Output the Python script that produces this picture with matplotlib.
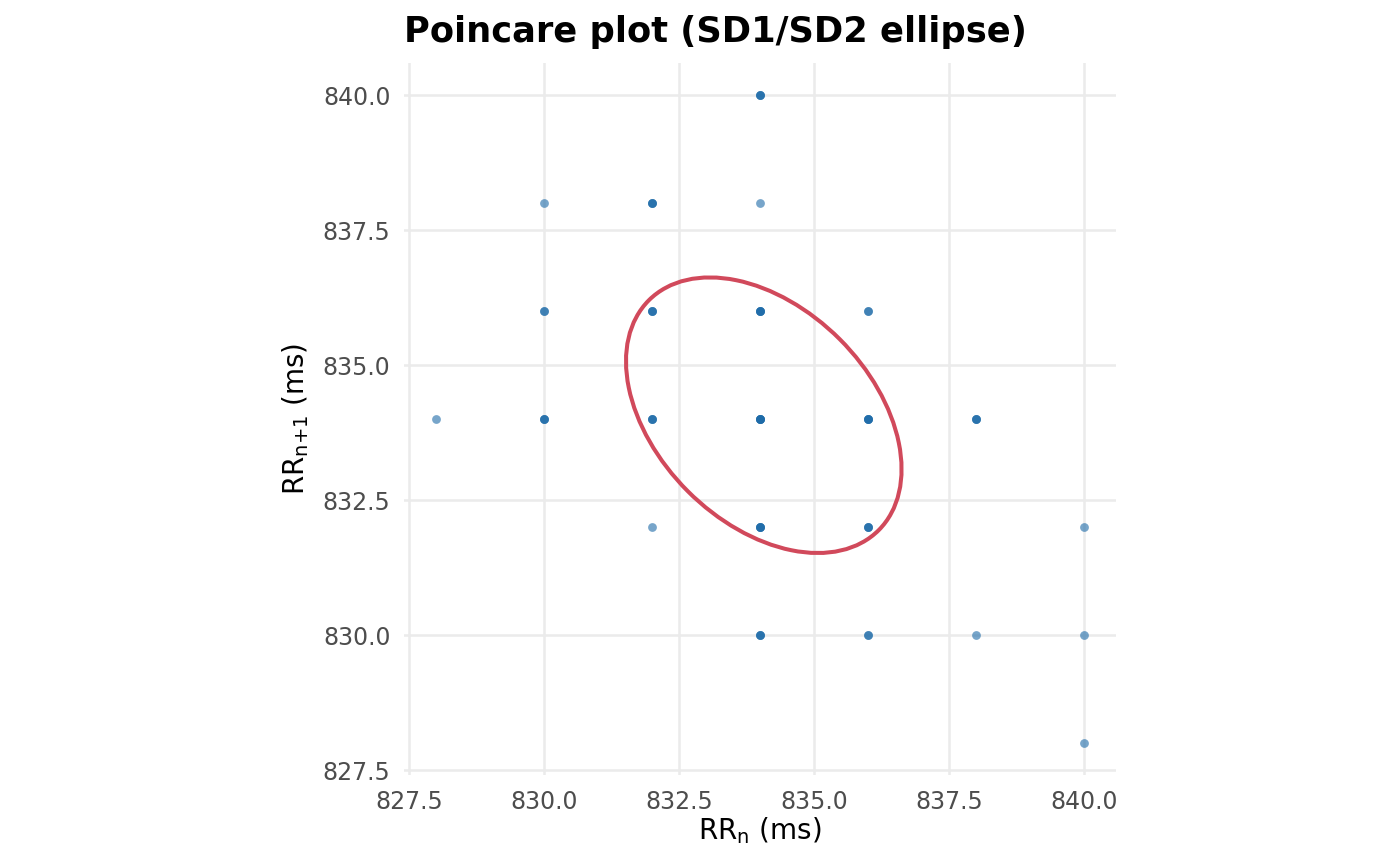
import matplotlib
matplotlib.use("Agg")
import matplotlib.pyplot as plt
from matplotlib.patches import Ellipse
import numpy as np

# ---- data: unique Poincare points (RR_n, RR_n+1) and how many times each occurs
rr_n   = [834, 830, 832, 834, 830, 832, 834, 836, 828, 830, 832, 834, 836, 838,
          832, 834, 836, 840, 834, 836, 838, 840, 840]
rr_n1  = [840, 838, 838, 838, 836, 836, 836, 836, 834, 834, 834, 834, 834, 834,
          832, 832, 832, 832, 830, 830, 830, 830, 828]
counts = [3, 1, 3, 1, 2, 3, 4, 2, 1, 3, 3, 5, 4, 3,
          1, 4, 3, 1, 3, 2, 1, 1, 1]

# ellipse (centre, SD along identity line, SD perpendicular)
centre = (834.07, 834.07)
sd2 = 1.99
sd1 = 3.01

ticks = [827.5, 830.0, 832.5, 835.0, 837.5, 840.0]
xlim = (827.4, 840.6)
ylim = (827.4, 840.6)

title = "Poincare plot (SD1/SD2 ellipse)"
xlabel = r"RR$_{\mathregular{n}}$ (ms)"
ylabel = r"RR$_{\mathregular{n{+}1}}$ (ms)"

plt.rcParams['font.family'] = ['DejaVu Sans']
plt.rcParams['mathtext.default'] = 'regular'

W, H = 1400, 866
fig = plt.figure(figsize=(W / 100, H / 100), dpi=100)
fig.patch.set_facecolor('white')
left, right, top, bottom = 403.6, 1116.4, 62.6, 775.4
ax = fig.add_axes([left / W, 1 - bottom / H, (right - left) / W, (bottom - top) / H])
ax.set_facecolor('white')

xs = np.repeat(rr_n, counts)
ys = np.repeat(rr_n1, counts)
ax.scatter(xs, ys, s=40, color='#1c6aa8', alpha=0.6, linewidths=0, zorder=3)

ell = Ellipse(centre, width=2 * sd2, height=2 * sd1, angle=45,
              fill=False, edgecolor='#d1495b', linewidth=2.9, zorder=4)
ax.add_patch(ell)

ax.set_xlim(*xlim)
ax.set_ylim(*ylim)
ax.set_xticks(ticks)
ax.set_yticks(ticks)
ax.set_xticklabels([f"{t:.1f}" for t in ticks])
ax.set_yticklabels([f"{t:.1f}" for t in ticks])
ax.grid(True, color='#ebebeb', linewidth=1.8, zorder=0)
ax.set_axisbelow(True)
for s in ax.spines.values():
    s.set_visible(False)
ax.tick_params(axis='both', length=0, labelsize=17, labelcolor='#4d4d4d')
ax.tick_params(axis='x', pad=10.5)
ax.tick_params(axis='y', pad=9.5)

ax.set_xlabel(xlabel, fontsize=20, color='black')
ax.set_ylabel(ylabel, fontsize=20, color='black')
ax.xaxis.set_label_coords(0.5, (bottom - 831) / (bottom - top), transform=ax.transAxes)
ax.xaxis.label.set_va('center')
ax.yaxis.set_label_coords((296 - left) / (right - left), 0.5, transform=ax.transAxes)
ax.yaxis.label.set_va('center')

fig.text(left / W, 1 - 42 / H, title, fontsize=25.4, fontweight='bold',
         ha='left', va='baseline', color='black')

fig.savefig('out.png', dpi=100)
